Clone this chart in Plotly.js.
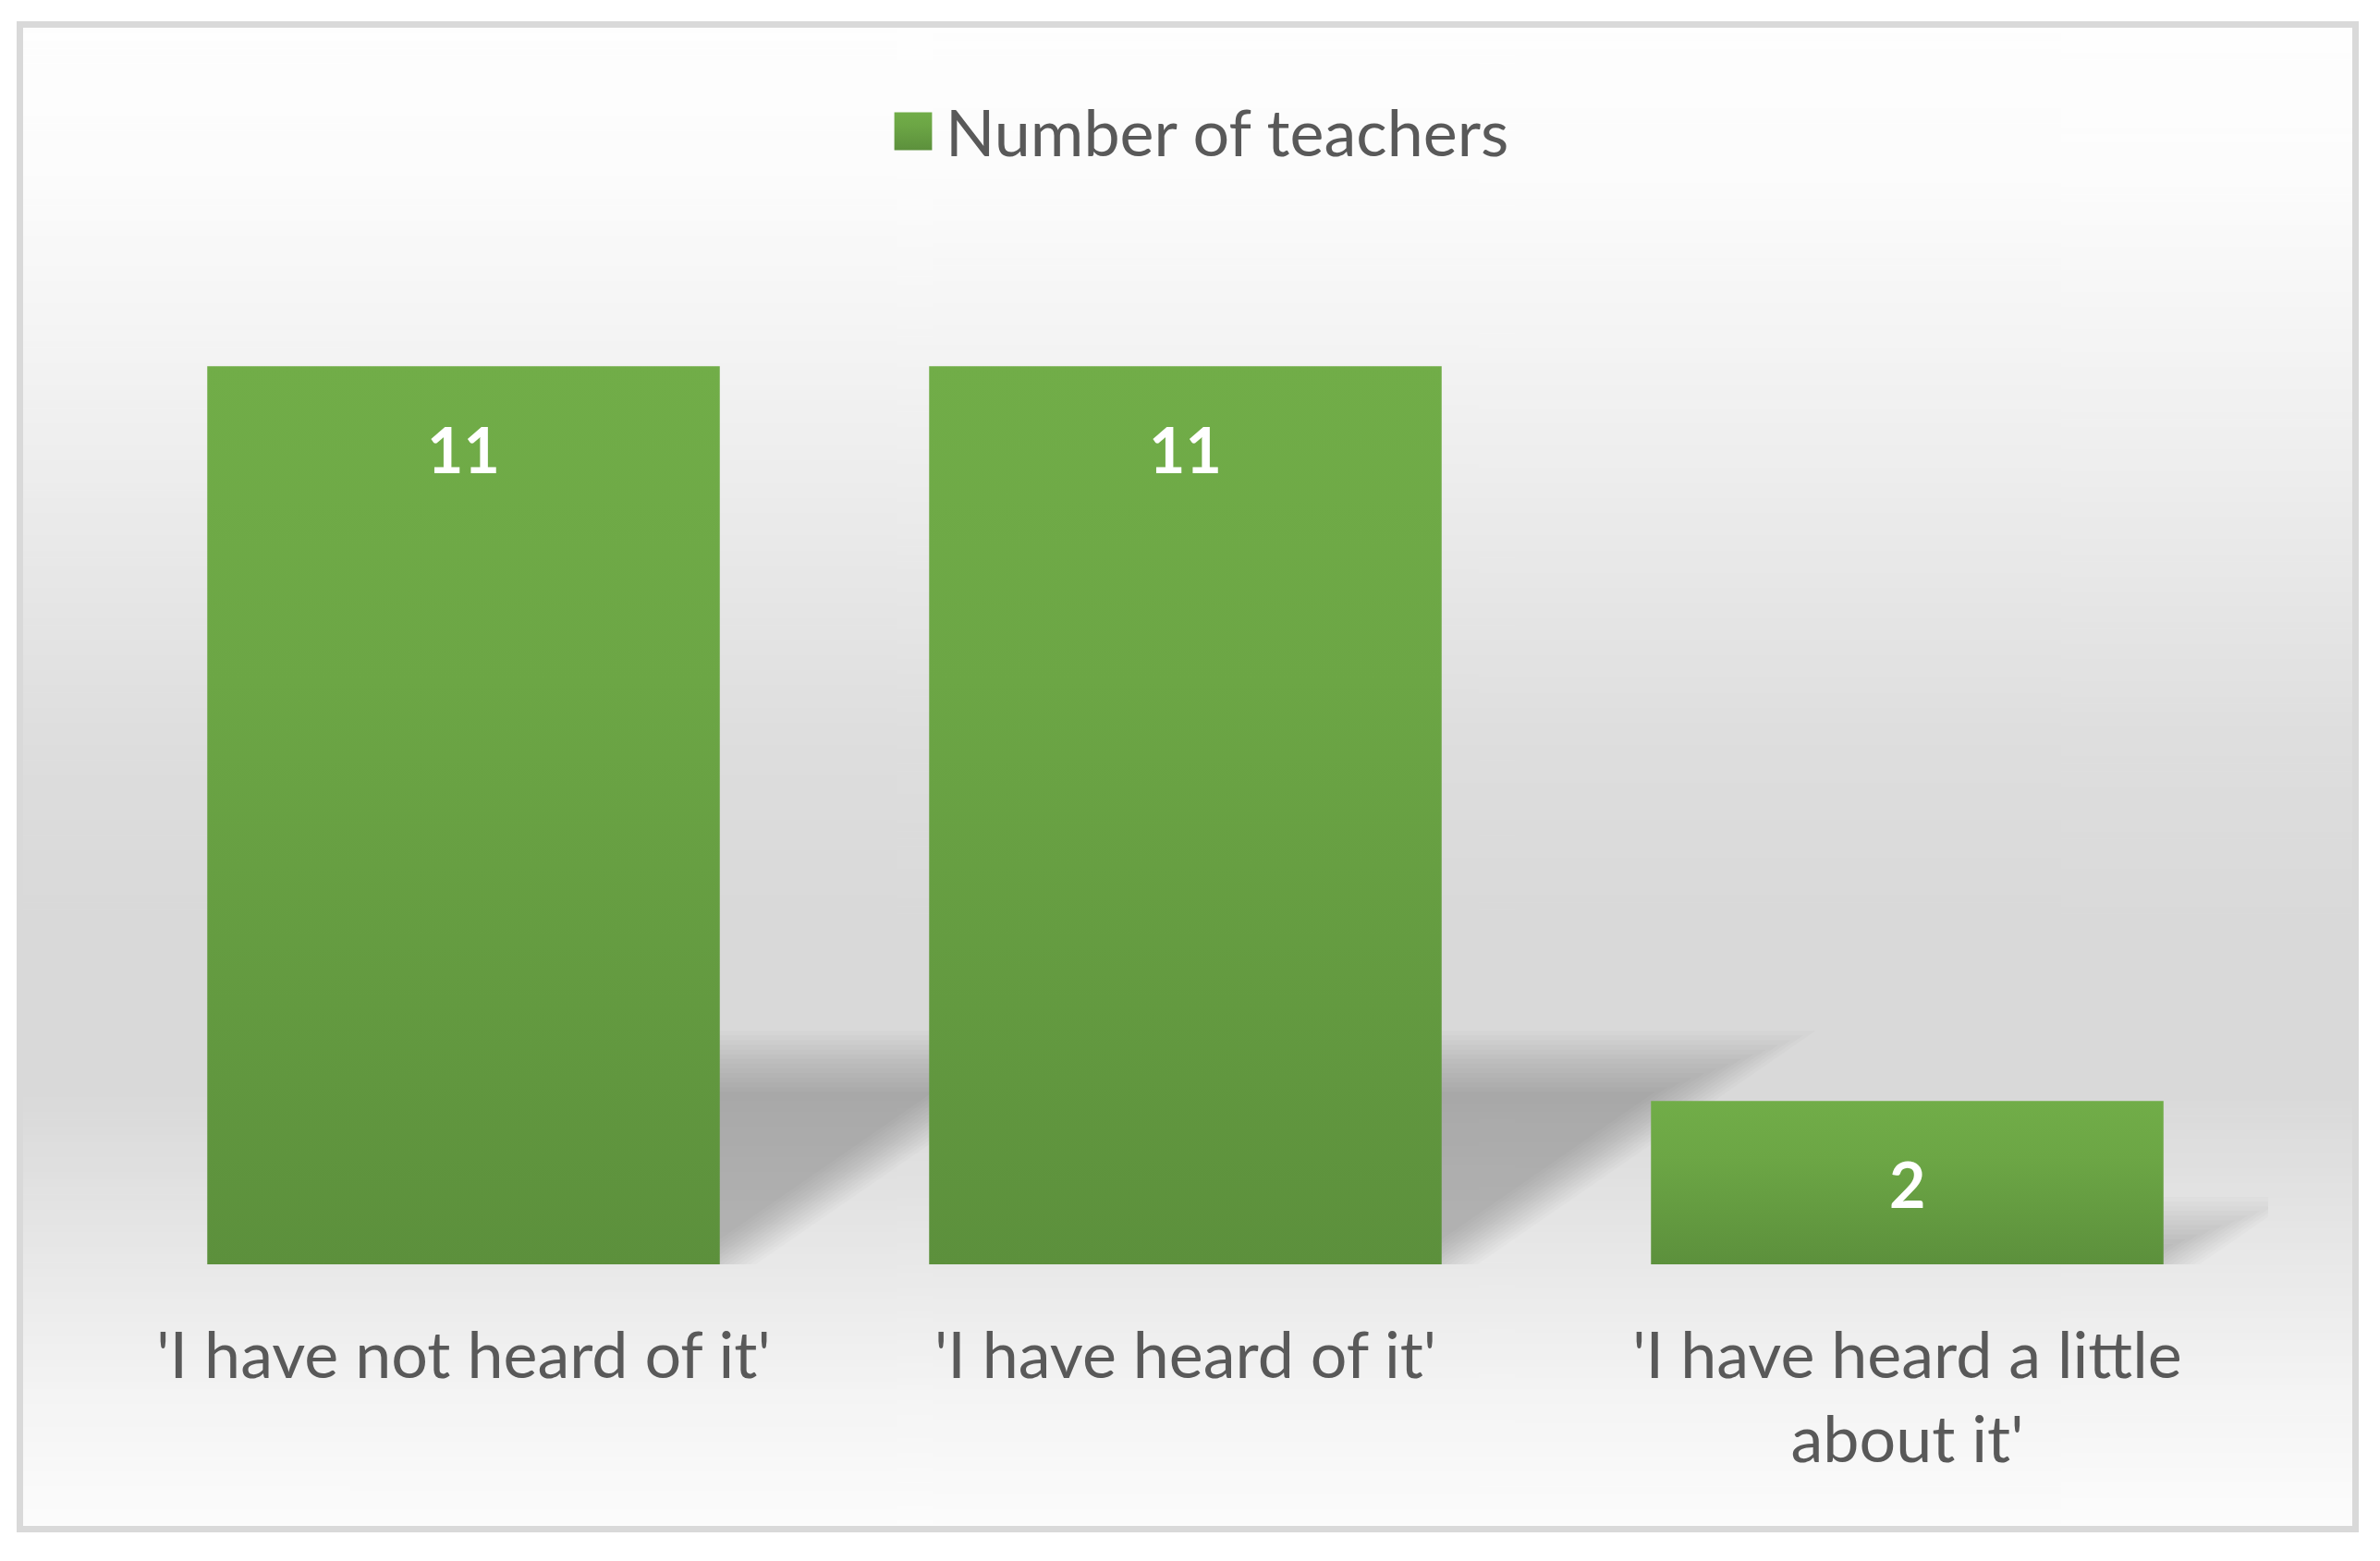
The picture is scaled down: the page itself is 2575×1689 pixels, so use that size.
<!DOCTYPE html>
<html><head><meta charset="utf-8">
<script src="https://cdn.plot.ly/plotly-3.0.1.min.js"></script>
<style>html,body{margin:0;padding:0;background:#fff;} #chart{width:2575px;height:1689px;}</style>
</head><body><div id="chart"></div>
<script>
const categories = ["'I have not heard of it'", "'I have heard of it'", "'I have heard a little<br>about it'"];
const teachers = [11, 11, 2];
const seriesName = 'Number of teachers';

const W = 2575, H = 1689, ML = 111, MR = 121, MT = 308, MB = 321;
const PW = W - ML - MR, PH = H - MT - MB;
const px = x => (x - ML) / PW;
const py = y => (H - MB - y) / PH;

// background gradient (inside the frame)
const cv = document.createElement('canvas'); cv.width = 4; cv.height = 400;
const g = cv.getContext('2d');
const lg = g.createLinearGradient(0, 0, 0, 400);
[[0, '#FEFEFE'], [0.1, '#FCFCFC'], [0.29, '#EEEEEE'], [0.475, '#DEDEDE'], [0.6, '#D9D9D9'],
 [0.71, '#D9D9D9'], [0.82, '#E8E8E8'], [0.91, '#F4F4F4'], [1, '#FCFCFC']].forEach(s => lg.addColorStop(s[0], s[1]));
g.fillStyle = lg; g.fillRect(0, 0, 4, 400);
const bgURL = cv.toDataURL();

const idx = categories.map((_, i) => i);
const halfW = 0.355;
const shapes = [];
// soft perspective shadows behind bars
const NL = 14;
teachers.forEach((v, i) => {
  const h = 0.226 * v, s = 0.037 * v;
  for (let k = 0; k < NL; k++) {
    const t = k / (NL - 1);
    const ex = 0.1 * (0.5 - t);
    const ey = 0.75 * (0.5 - t);
    const x0 = i - halfW, x1 = i + halfW + ex;
    const topY = Math.max(h + ey, 0.03);
    const sh = s * topY / h;
    shapes.push({type: 'path', xref: 'x', yref: 'y', layer: 'below',
      path: `M${x0},0 L${x1},0 L${x1 + sh},${topY} L${x0 + sh},${topY} Z`,
      fillcolor: 'rgba(0,0,0,0.0168)', line: {width: 0}});
  }
  // thin soft shadow under bar
  shapes.push({type: 'rect', xref: 'x', yref: 'y', layer: 'below',
    x0: i - halfW, x1: i + halfW + 0.02, y0: 0, y1: -0.07,
    fillcolor: 'rgba(0,0,0,0.05)', line: {width: 0}});
});
// frame
shapes.push({type: 'rect', xref: 'paper', yref: 'paper', layer: 'above',
  x0: px(21.5), x1: px(2548.5), y0: py(26.5), y1: py(1654.5),
  line: {color: '#D9D9D9', width: 7}, fillcolor: 'rgba(0,0,0,0)'});

const annotations = teachers.map((v, i) => ({
  x: i, y: v, xref: 'x', yref: 'y', text: '<b>' + v + '</b>', showarrow: false,
  yanchor: 'middle', yshift: -89,
  font: {family: 'Lato', size: 68, color: '#FFFFFF'}
}));

const trace = {
  type: 'bar', x: idx, y: teachers, name: seriesName,
  marker: {color: '#67A042', line: {width: 0}}, hoverinfo: 'none', showlegend: true
};

const layout = {
  width: W, height: H,
  margin: {l: ML, r: MR, t: MT, b: MB},
  paper_bgcolor: '#FFFFFF', plot_bgcolor: 'rgba(0,0,0,0)',
  bargap: 0.29,
  xaxis: {range: [-0.5, 2.5], tickvals: idx, ticktext: categories, showgrid: false, zeroline: false,
    showline: false, ticks: '', fixedrange: true, ticklabelstandoff: 52,
    tickfont: {family: 'Lato', size: 70, color: '#595959'}},
  yaxis: {range: [0, 12], visible: false, fixedrange: true},
  showlegend: true,
  legend: {orientation: 'h', x: 0.5 + 13 / PW, xanchor: 'center', y: py(142), yanchor: 'middle',
    font: {family: 'Lato', size: 70, color: '#595959'}, bgcolor: 'rgba(0,0,0,0)', itemwidth: 60},
  images: [{source: bgURL, xref: 'paper', yref: 'paper', x: px(25), y: py(30),
    sizex: px(2545) - px(25), sizey: py(30) - py(1651), sizing: 'stretch', layer: 'below',
    xanchor: 'left', yanchor: 'top'}],
  shapes: shapes,
  annotations: annotations
};

Plotly.newPlot('chart', [trace], layout, {displayModeBar: false, staticPlot: true}).then(gd => {
  const svg = gd.querySelector('.main-svg');
  const ns = 'http://www.w3.org/2000/svg';
  let defs = svg.querySelector('defs');
  if (!defs) { defs = document.createElementNS(ns, 'defs'); svg.insertBefore(defs, svg.firstChild); }
  const grad = document.createElementNS(ns, 'linearGradient');
  grad.setAttribute('id', 'barGrad');
  grad.setAttribute('x1', '0'); grad.setAttribute('y1', '0'); grad.setAttribute('x2', '0'); grad.setAttribute('y2', '1');
  [['0', '#71AD48'], ['0.35', '#6CA645'], ['1', '#5C903C']].forEach(s => {
    const st = document.createElementNS(ns, 'stop');
    st.setAttribute('offset', s[0]); st.setAttribute('stop-color', s[1]);
    grad.appendChild(st);
  });
  defs.appendChild(grad);
  gd.querySelectorAll('.barlayer .point path').forEach(p => { p.style.fill = 'url(#barGrad)'; });
  gd.querySelectorAll('.legend .legendpoints path').forEach(p => {
    p.style.fill = 'url(#barGrad)';
    const tr = p.getAttribute('transform') || '';
    p.setAttribute('transform', tr + ' scale(3.4)');
  });
});
</script>
</body></html>
